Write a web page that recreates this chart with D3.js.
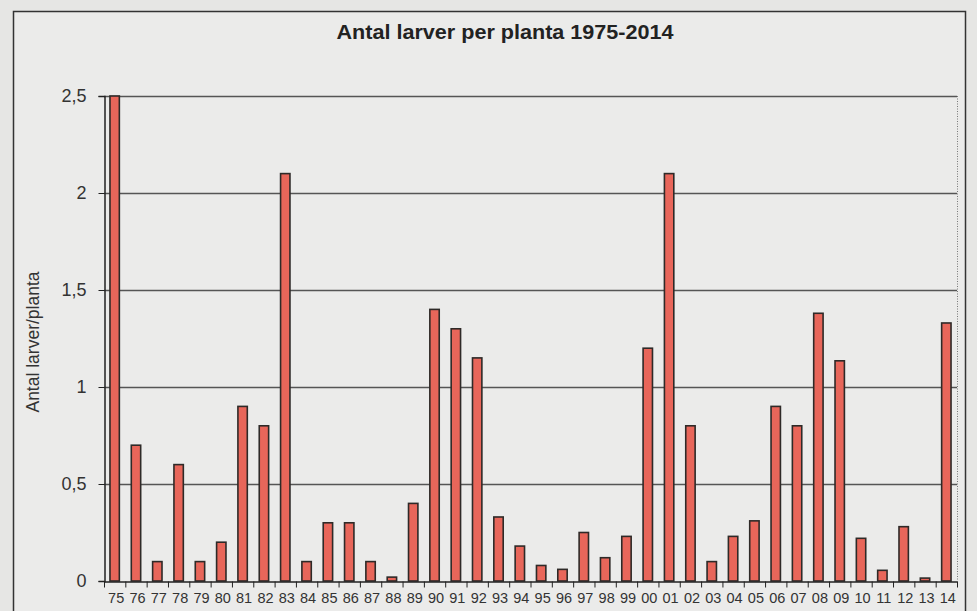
<!DOCTYPE html>
<html><head><meta charset="utf-8">
<script src="https://cdn.jsdelivr.net/npm/d3@7/dist/d3.min.js"></script>
<style>
html,body{margin:0;padding:0;background:#e6e6e4;}
svg{display:block;}
</style></head>
<body>
<script>
const years = ["75","76","77","78","79","80","81","82","83","84","85","86","87","88","89","90","91","92","93","94","95","96","97","98","99","00","01","02","03","04","05","06","07","08","09","10","11","12","13","14"];
const larver = [2.5,0.7,0.1,0.6,0.1,0.2,0.9,0.8,2.1,0.1,0.3,0.3,0.1,0.02,0.4,1.4,1.3,1.15,0.33,0.18,0.08,0.06,0.25,0.12,0.23,1.2,2.1,0.8,0.1,0.23,0.31,0.9,0.8,1.38,1.135,0.22,0.055,0.28,0.015,1.33];
const yTicks = [0,0.5,1,1.5,2,2.5];
const title = "Antal larver per planta 1975-2014";
const yTitle = "Antal larver/planta";

const W = 977, H = 611;
const svg = d3.select("body").append("svg").attr("width",W).attr("height",H);

svg.append("rect").attr("x",0).attr("y",0).attr("width",W).attr("height",H).attr("fill","#e6e6e4");
// chart frame
svg.append("rect").attr("x",13.5).attr("y",11.5).attr("width",952).attr("height",H+10)
  .attr("fill","#ebebea").attr("stroke","#333").attr("stroke-width",1.5);

const x = d3.scaleBand().domain(years).range([104,957]).paddingInner(0.56).paddingOuter(0.28);
const y = d3.scaleLinear().domain([0,2.5]).range([581,96]);

// gridlines
svg.append("g").selectAll("line").data(yTicks.filter(d=>d>0)).join("line")
  .attr("x1",104).attr("x2",957).attr("y1",d=>Math.round(y(d))+0.5).attr("y2",d=>Math.round(y(d))+0.5)
  .attr("stroke","#555").attr("stroke-width",1.3);

// right dotted border
svg.append("line").attr("x1",957.5).attr("x2",957.5).attr("y1",96).attr("y2",581)
  .attr("stroke","#777").attr("stroke-dasharray","1,1.5");

// bars
svg.append("g").selectAll("rect").data(larver).join("rect")
  .attr("x",(d,i)=>x(years[i]))
  .attr("width",x.bandwidth())
  .attr("y",d=>y(d))
  .attr("height",d=>y(0)-y(d))
  .attr("fill","#e8665a").attr("stroke","#2e2a28").attr("stroke-width",1.6);

// y axis
const yAxis = d3.axisLeft(y).tickValues(yTicks).tickSize(6).tickPadding(12)
  .tickFormat(d=>d3.format("")(d).replace(".",","));
const ga = svg.append("g").attr("transform","translate(104.5,0)").call(yAxis);
ga.select(".domain").attr("stroke","#222").attr("stroke-width",1.5);
ga.selectAll(".tick line").attr("stroke","#222");
ga.selectAll("text").attr("font-family","Liberation Sans, Arial, sans-serif").attr("font-size",18).attr("fill","#333");

// x axis
const xAxis = d3.axisBottom(x).tickSize(0).tickPadding(11);
const gx = svg.append("g").attr("transform","translate(0,581.5)").call(xAxis);
gx.select(".domain").attr("stroke","#222").attr("stroke-width",1.5);
gx.selectAll("text").attr("font-family","Liberation Sans, Arial, sans-serif").attr("font-size",14.5).attr("fill","#333")
  .attr("dx",1.5);
// tick marks between categories
gx.append("g").selectAll("line").data(d3.range(years.length+1)).join("line")
  .attr("x1",i=>104.5+i*(853/years.length)).attr("x2",i=>104.5+i*(853/years.length))
  .attr("y1",0).attr("y2",6).attr("stroke","#222");

// title
svg.append("text").attr("x",505).attr("y",39).attr("text-anchor","middle")
  .attr("font-family","Liberation Sans, Arial, sans-serif").attr("font-weight","bold")
  .attr("font-size",20.5).attr("textLength",337).attr("lengthAdjust","spacingAndGlyphs")
  .attr("fill","#222").text(title);

// y title
svg.append("text").attr("transform","translate(39,342) rotate(-90)").attr("text-anchor","middle")
  .attr("font-family","Liberation Sans, Arial, sans-serif").attr("font-size",17.5).attr("fill","#333").text(yTitle);
</script>
</body></html>
